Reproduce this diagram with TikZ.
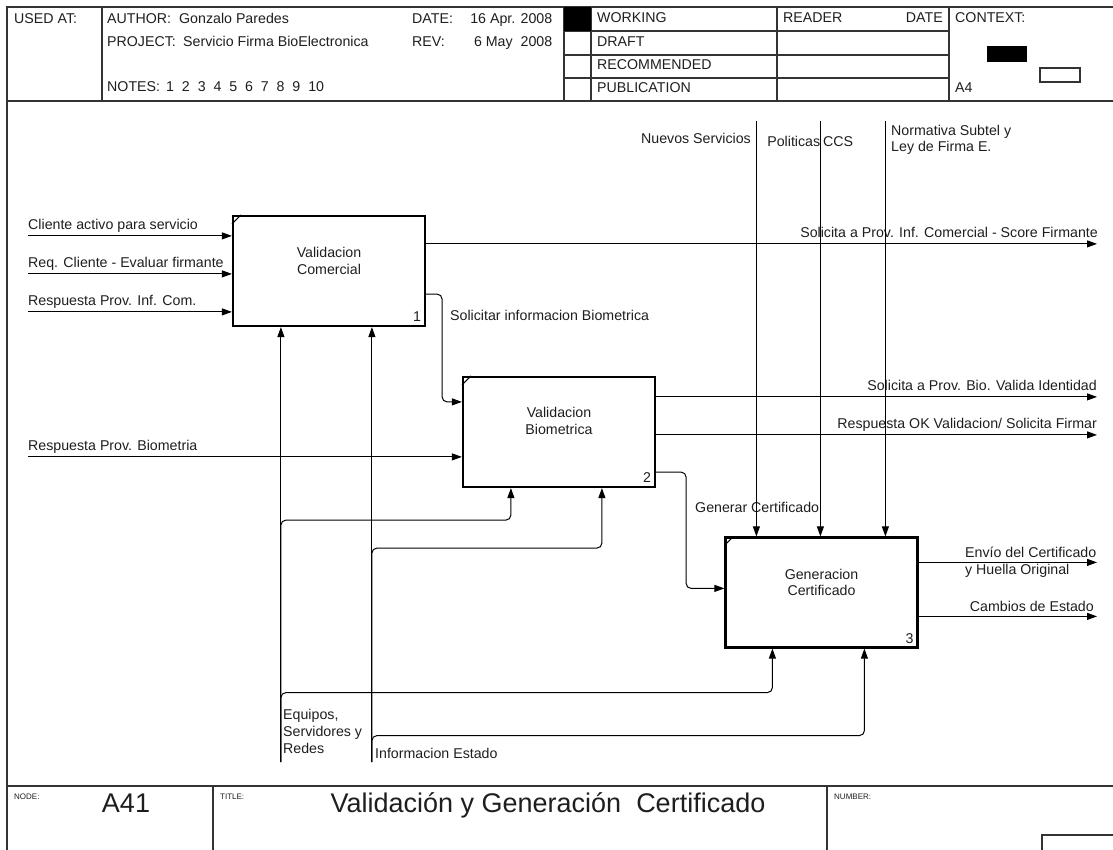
\documentclass[tikz,border=0pt]{standalone}
\usepackage{fontspec}
\setmainfont{Liberation Sans}
\usetikzlibrary{arrows.meta,calc}
\definecolor{ink}{HTML}{1E1E1E}
\newcommand{\lbf}{\fontsize{14.2}{16.8}\selectfont}
\newcommand{\smf}{\fontsize{8}{9}\selectfont}
\newcommand{\bigf}{\fontsize{27}{31}\selectfont}
\tikzset{
  act/.style={draw,line width=2.2pt,minimum width=192pt,minimum height=110pt,inner sep=0pt},
  ttl/.style={align=center,font=\lbf,text=ink,inner sep=0pt},
  lbl/.style={font=\lbf,text=ink,inner sep=0pt},
  sml/.style={font=\smf,text=ink,inner sep=0pt},
  ar/.style={-{Triangle[length=10pt,width=7pt]},line width=1pt,rounded corners=5pt},
  rule/.style={line width=1.2pt,draw=black!80},
}

\begin{document}
\begin{tikzpicture}[x=1pt,y=-1pt]
\useasboundingbox (0,0) rectangle (1113,850);
% frame and header
\draw[rule] (1113,7) -- (7,7) -- (7,850);
\draw[rule] (7,101) -- (1113,101); \draw[rule] (7,786) -- (1113,786);
\foreach \xx in {102,564,591,777,949} \draw[rule] (\xx,7) -- (\xx,101);
\foreach \yy in {31,55,78} \draw[rule] (564,\yy) -- (949,\yy);
\fill (564,7) rectangle (591,31);
\fill (987,46) rectangle (1027,62); \draw[rule] (1040,68) rectangle (1080,82);
\node[lbl,anchor=base west] (used) at (14,24) {USED AT:};
\node[lbl,anchor=base west] (auth) at (107,24) {\makebox[72pt][l]{AUTHOR:}Gonzalo Paredes};
\node[lbl,anchor=base west] (proj) at (107,47) {\makebox[76pt][l]{PROJECT:}Servicio Firma BioElectronica};
\node[lbl,anchor=base west] (notes) at (107,92) {\makebox[59pt][l]{NOTES:}1~~2~~3~~4~~5~~6~~7~~8~~9~~10};
\node[lbl,anchor=base west] (date) at (412,24) {\makebox[140pt][l]{DATE:\hfill 16 Apr. 2008}};
\node[lbl,anchor=base west] (rev) at (412,47) {\makebox[140pt][l]{REV:\hfill 6 May~~2008}};
\node[lbl,anchor=base west] (wrk) at (597,23) {WORKING};
\node[lbl,anchor=base west] (drf) at (597,47) {DRAFT};
\node[lbl,anchor=base west] (rec) at (597,70) {RECOMMENDED};
\node[lbl,anchor=base west] (pub) at (597,93) {PUBLICATION};
\node[lbl,anchor=base west] (rdr) at (783,23) {READER};
\node[lbl,anchor=base east] (rdt) at (943,23) {DATE};
\node[lbl,anchor=base west] (ctx) at (955,23) {CONTEXT:};
\node[lbl,anchor=base west] (fmt) at (955,93) {A4};
% footer
\foreach \xx in {213,827} \draw[rule] (\xx,786) -- (\xx,850);
\draw[rule] (1042,850) -- (1042,835) -- (1113,835);
\node[sml,anchor=base west] (nlb) at (14,799) {NODE:};
\node[lbl,font=\bigf,anchor=base] (nid) at (126,812) {A41};
\node[sml,anchor=base west] (tlb) at (220,799) {TITLE:};
\node[lbl,font=\bigf,anchor=base] (tit) at (548,812) {Validación y Generación~~Certificado};
\node[sml,anchor=base west] (nmb) at (834,799) {NUMBER:};
% activities
\node[act] (b1) at (329,271) {};
\node[act] (b2) at (559,432) {};
\node[act] (b3) at (821.5,592.5) {};
\node[ttl,yshift=10pt] (t1) at (b1.center) {Validacion\\Comercial};
\node[ttl,yshift=11pt] (t2) at (b2.center) {Validacion\\Biometrica};
\node[ttl,yshift=10pt] (t3) at (b3.center) {Generacion\\Certificado};
\foreach \bx/\nn in {b1/1,b2/2,b3/3}{
  \node[lbl,anchor=south east] at ([xshift=-5pt,yshift=5pt]\bx.south east) {\nn};
  \draw[line width=1pt] ([yshift=-9pt]\bx.north west) -- ([xshift=9pt]\bx.north west);
}
% free ends
\coordinate (lft) at (28,0); \coordinate (rim) at (1097,0);
\coordinate (top) at (0,121); \coordinate (bot) at (0,762);
% inputs
\coordinate (i11) at ([yshift=-21pt]b1.north west);
\coordinate (i12) at ([yshift=-59pt]b1.north west);
\coordinate (i13) at ([yshift=-97pt]b1.north west);
\coordinate (i21) at ([yshift=-26pt]b2.north west);
\coordinate (i22) at ([yshift=-81pt]b2.north west);
\coordinate (i31) at ([yshift=-52pt]b3.north west);
\draw[ar] (lft |- i11) -- (i11); \draw[ar] (lft |- i12) -- (i12); \draw[ar] (lft |- i13) -- (i13);
\draw[ar] (lft |- i22) -- (i22);
\node[lbl,anchor=base west] (li1) at ([yshift=6pt]lft |- i11) {Cliente activo para servicio};
\node[lbl,anchor=base west] (li2) at ([yshift=6pt]lft |- i12) {Req. Cliente - Evaluar firmante};
\node[lbl,anchor=base west] (li3) at ([yshift=6pt]lft |- i13) {Respuesta Prov. Inf. Com.};
\node[lbl,anchor=base west] (li4) at ([yshift=6pt]lft |- i22) {Respuesta Prov. Biometria};
% outputs
\coordinate (o11) at ([yshift=-29pt]b1.north east);
\coordinate (o12) at ([yshift=33pt]b1.south east);
\coordinate (o21) at ([yshift=-21pt]b2.north east);
\coordinate (o22) at ([yshift=-59pt]b2.north east);
\coordinate (o23) at ([yshift=16pt]b2.south east);
\coordinate (o31) at ([yshift=-26pt]b3.north east);
\coordinate (o32) at ([yshift=-80pt]b3.north east);
\draw[ar] (o11) -- (o11 -| rim); \draw[ar] (o21) -- (o21 -| rim); \draw[ar] (o22) -- (o22 -| rim);
\draw[ar] (o31) -- (o31 -| rim); \draw[ar] (o32) -- (o32 -| rim);
\draw[ar] (o12) -- ++(16,0) |- (i21);
\draw[ar] (o23) -- ++(30,0) |- (i31);
\node[lbl,anchor=base east] (lo1) at ([yshift=6pt,xshift=1pt]o11 -| rim) {Solicita a Prov. Inf. Comercial - Score Firmante};
\node[lbl,anchor=base east] (lo2) at ([yshift=6pt]o21 -| rim) {Solicita a Prov. Bio. Valida Identidad};
\node[lbl,anchor=base east] (lo3) at ([yshift=6pt]o22 -| rim) {Respuesta OK Validacion/ Solicita Firmar};
\node[lbl,anchor=base west,align=left] (lo4) at (965,574) {Envío del Certificado\\y Huella Original};
\node[lbl,anchor=base east] (lo5) at ([yshift=5pt,xshift=-3pt]o32 -| rim) {Cambios de Estado};
\node[lbl,anchor=base west] (lk1) at (450,320) {Solicitar informacion Biometrica};
\node[lbl,anchor=base west] (lk2) at (695,512) {Generar Certificado};
% controls
\coordinate (c1) at ([xshift=32pt]b3.north west);
\coordinate (c2) at ([xshift=96pt]b3.north west);
\coordinate (c3) at ([xshift=161pt]b3.north west);
\foreach \cc in {c1,c2,c3} \draw[ar] (\cc |- top) -- (\cc);
\node[lbl,anchor=base east] (lc1) at (751,144) {Nuevos Servicios};
\node[lbl,anchor=base west] (lc2) at (820,147) {\llap{Politicas}\hspace{3pt}CCS};
\node[lbl,anchor=base west,align=left] (lc3) at (891,152) {Normativa Subtel y\\Ley de Firma E.};
% mechanisms
\coordinate (u11) at ([xshift=49pt]b1.south west); \coordinate (u12) at ([xshift=140pt]b1.south west);
\coordinate (u21) at ([xshift=49pt]b2.south west); \coordinate (u22) at ([xshift=140pt]b2.south west);
\coordinate (u31) at ([xshift=48pt]b3.south west); \coordinate (u32) at ([xshift=140pt]b3.south west);
\draw[ar] (u11 |- bot) -- (u11); \draw[ar] (u12 |- bot) -- (u12);
\draw[ar] (u11 |- bot) |- ($(u21)+(0,32)$) -- (u21);
\draw[ar] (u11 |- bot) |- ($(u31)+(0,44)$) -- (u31);
\draw[ar] (u12 |- bot) |- ($(u22)+(0,60)$) -- (u22);
\draw[ar] (u12 |- bot) |- ($(u32)+(0,87)$) -- (u32);
\node[lbl,anchor=base west,align=left] (lm1) at (283,753) {Equipos,\\Servidores y\\Redes};
\node[lbl,anchor=base west] (lm2) at (375,758) {Informacion Estado};
\end{tikzpicture}
\end{document}
